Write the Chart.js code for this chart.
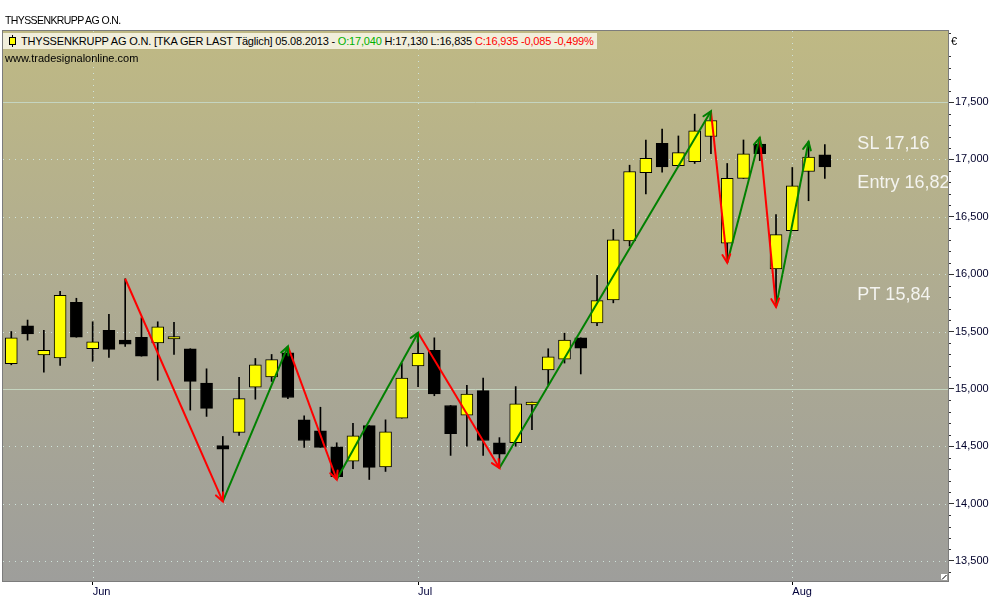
<!DOCTYPE html>
<html><head><meta charset="utf-8">
<script src="https://cdn.jsdelivr.net/npm/chart.js@4.4.0/dist/chart.umd.min.js"></script>
<style>
html,body{margin:0;padding:0;background:#fff;}
#wrap{position:relative;width:1000px;height:600px;overflow:hidden;}
canvas{position:absolute;left:0;top:0;}
.t{position:absolute;font-family:"Liberation Sans",Arial,sans-serif;font-size:11px;white-space:nowrap;color:#000;line-height:13px;}
#legend{position:absolute;left:3px;top:33px;height:16px;padding:0 3px 0 5px;background:#f1eedb;font-family:"Liberation Sans",Arial,sans-serif;font-size:11px;line-height:16px;white-space:nowrap;color:#000;letter-spacing:-0.18px;}
</style></head><body>
<div id="wrap">
<canvas id="c" width="1000" height="600"></canvas>
<div class="t" id="title" style="left:5px;top:14px;font-size:10.5px;letter-spacing:-0.6px;"></div>
<div id="legend"></div>
<div class="t" style="left:5px;top:52px;">www.tradesignalonline.com</div>
</div>
<script>
// ---------- data ----------
const symbolName = 'THYSSENKRUPP AG O.N.';
const symbolInfo = '[TKA GER LAST Täglich]';
const dates = ['27.05.2013','28.05.2013','29.05.2013','30.05.2013','31.05.2013',
 '03.06.2013','04.06.2013','05.06.2013','06.06.2013','07.06.2013','10.06.2013','11.06.2013','12.06.2013','13.06.2013','14.06.2013',
 '17.06.2013','18.06.2013','19.06.2013','20.06.2013','21.06.2013','24.06.2013','25.06.2013','26.06.2013','27.06.2013','28.06.2013',
 '01.07.2013','02.07.2013','03.07.2013','04.07.2013','05.07.2013','08.07.2013','09.07.2013','10.07.2013','11.07.2013','12.07.2013',
 '15.07.2013','16.07.2013','17.07.2013','18.07.2013','19.07.2013','22.07.2013','23.07.2013','24.07.2013','25.07.2013','26.07.2013',
 '29.07.2013','30.07.2013','31.07.2013','01.08.2013','02.08.2013','05.08.2013'];
const monthNames = ['Jan','Feb','Mar','Apr','May','Jun','Jul','Aug','Sep','Oct','Nov','Dec'];
const opens  = [15.22,15.55,15.295,15.27,15.755,15.35,15.51,15.425,15.45,15.40,15.435,15.35,15.05,14.505,14.62,15.015,15.105,15.315,14.73,14.635,
                14.495,14.37,14.68,14.32,14.745,15.20,15.335,14.855,14.77,14.985,14.53,14.53,14.86,15.165,15.26,15.445,15.575,15.775,16.29,16.885,
                17.14,16.945,16.98,17.20,16.27,16.835,17.135,16.045,16.38,16.895,17.04];
const highs  = [15.50,15.60,15.51,15.85,15.79,15.585,15.65,15.96,15.62,15.585,15.58,15.35,15.175,14.585,15.10,15.265,15.30,15.37,14.765,14.84,
                14.53,14.70,14.68,14.73,15.225,15.49,15.445,14.855,15.03,15.095,14.575,15.02,14.885,15.35,15.485,15.445,15.99,16.39,16.95,17.17,
                17.265,17.205,17.395,17.42,16.965,17.17,17.19,16.52,16.93,17.155,17.13];
const lows   = [15.21,15.425,15.145,15.205,15.45,15.24,15.275,15.37,15.285,15.075,15.30,14.815,14.76,14.02,14.595,14.91,15.065,14.915,14.49,14.49,
                14.21,14.305,14.21,14.28,14.745,15.02,14.94,14.42,14.50,14.42,14.31,14.50,14.645,15.035,15.225,15.13,15.55,15.75,16.245,16.70,
                16.89,16.94,16.965,17.05,16.10,16.835,16.99,15.715,16.38,16.64,16.835];
const closes = [15.445,15.48,15.335,15.815,15.45,15.41,15.345,15.39,15.285,15.54,15.455,15.065,14.83,14.475,14.915,15.21,15.255,14.925,14.55,14.49,
                14.235,14.59,14.315,14.625,15.095,15.31,14.955,14.61,14.955,14.55,14.43,14.87,14.885,15.28,15.425,15.355,15.77,16.30,16.895,17.01,
                16.935,17.06,17.25,17.34,16.835,17.05,17.05,16.345,16.77,17.02,16.935];
// zigzag pivots: candle index and type (H = high, L = low)
const zigIdx  = [7,13,17,20,25,30,43,44,46,47,49];
const zigType = ['H','L','H','L','H','L','H','L','H','L','H'];
// trade levels
const levelNames  = ['SL','Entry','PT'];
const levelValues = [17.16,16.82,15.84];
// axis
const yTicks = [13.5,14.0,14.5,15.0,15.5,16.0,16.5,17.0,17.5];
const yMin = 13.325, yMax = 18.12;
const xMin = -0.51, xMax = 57.57;

// ---------- helpers ----------
const FONT = '"Liberation Sans", Arial, sans-serif';
const fmt3 = v => v.toFixed(3).replace('.', ',');
const fmt2 = v => v.toFixed(2).replace('.', ',');
const YELLOW = '#ffff00', RED = '#ff0000', GREEN = '#008000';

const n = closes.length;
const monthIdx = [];
for (let i = 1; i < n; i++) if (dates[i].slice(3,5) !== dates[i-1].slice(3,5)) monthIdx.push(i);
const monthOf = i => monthNames[parseInt(dates[i].slice(3,5),10)-1];

const bodyData = closes.map((c,i)=>({x:i, y:[opens[i], c]}));
const wickData = closes.map((c,i)=>({x:i, y:[lows[i], highs[i]]}));
const bodyColors = closes.map((c,i)=> c >= opens[i] ? YELLOW : '#000000');
const zigData = zigIdx.map((k,j)=>({x:k, y: zigType[j]==='H' ? highs[k] : lows[k]}));

// ---------- header texts ----------
document.getElementById('title').textContent = symbolName;
(function(){
  const L = n-1;
  const chg = closes[L]-closes[L-1];
  const pct = chg/closes[L-1]*100;
  const oCol = opens[L] >= closes[L-1] ? '#00b000' : RED;
  const cCol = chg < 0 ? RED : '#00b000';
  const icon = '<span style="display:inline-block;position:relative;width:10px;height:12px;vertical-align:-2px;margin-right:3px">'+
    '<span style="position:absolute;left:4px;top:0;width:1px;height:12px;background:#000"></span>'+
    '<span style="position:absolute;left:1px;top:2px;width:5px;height:6px;background:#ff0;border:1px solid #000"></span></span>';
  document.getElementById('legend').innerHTML = icon +
    symbolName + ' ' + symbolInfo + ' ' + dates[L] + ' - ' +
    '<span style="color:'+oCol+'">O:' + fmt3(opens[L]) + '</span> H:' + fmt3(highs[L]) + ' L:' + fmt3(lows[L]) + ' ' +
    '<span style="color:'+cCol+'">C:' + fmt3(closes[L]) + ' ' + fmt3(chg) + ' ' + fmt3(pct) + '%</span>';
})();

// ---------- plugins ----------
const deco = {
  id:'deco',
  beforeDraw(chart){
    const {ctx, chartArea:a} = chart;
    ctx.save();
    ctx.fillStyle = '#ffffff';
    ctx.fillRect(0,0,chart.width,chart.height);
    const g = ctx.createLinearGradient(0,a.top,0,a.bottom);
    g.addColorStop(0,'#bfb984');
    g.addColorStop(0.5,'#aeab92');
    g.addColorStop(1,'#9e9e9b');
    ctx.fillStyle = g;
    ctx.fillRect(a.left,a.top,a.right-a.left,a.bottom-a.top);
    ctx.restore();
  },
  beforeDatasetsDraw(chart){
    const {ctx, chartArea:a, scales:{x,y}} = chart;
    ctx.save();
    ctx.lineWidth = 1;
    yTicks.forEach(v=>{
      const py = Math.round(y.getPixelForValue(v)) + 0.5;
      const solid = Math.abs(v % 2.5) < 1e-6;
      ctx.setLineDash(solid ? [] : [1,5]);
      ctx.strokeStyle = solid ? '#c5d5c0' : '#cfe3da';
      ctx.beginPath(); ctx.moveTo(a.left,py); ctx.lineTo(a.right,py); ctx.stroke();
    });
    ctx.setLineDash([1,5]);
    ctx.strokeStyle = '#cfe3da';
    monthIdx.forEach(i=>{
      const px = Math.round(x.getPixelForValue(i)) + 0.5;
      ctx.beginPath(); ctx.moveTo(px,a.top); ctx.lineTo(px,a.bottom); ctx.stroke();
    });
    ctx.restore();
  },
  afterDatasetsDraw(chart){
    const {ctx, chartArea:a, scales:{x,y}} = chart;
    ctx.save();
    // arrow heads on zigzag
    const meta = chart.getDatasetMeta(0);
    const pts = meta.data;
    ctx.lineWidth = 2;
    ctx.lineCap = 'round';
    for (let i = 1; i < pts.length; i++){
      const p0 = pts[i-1], p1 = pts[i];
      const ang = Math.atan2(p1.y-p0.y, p1.x-p0.x);
      const up = zigData[i].y > zigData[i-1].y;
      ctx.strokeStyle = up ? GREEN : RED;
      const len = 9, spread = 0.45;
      ctx.beginPath();
      ctx.moveTo(p1.x - len*Math.cos(ang-spread), p1.y - len*Math.sin(ang-spread));
      ctx.lineTo(p1.x, p1.y);
      ctx.lineTo(p1.x - len*Math.cos(ang+spread), p1.y - len*Math.sin(ang+spread));
      ctx.stroke();
    }
    // level texts
    ctx.beginPath(); ctx.rect(a.left,a.top,a.right-a.left,a.bottom-a.top); ctx.clip();
    ctx.fillStyle = '#f4f4f0';
    ctx.font = '18px ' + FONT;
    ctx.textBaseline = 'middle';
    ctx.textAlign = 'left';
    const tx = x.getPixelForValue(n + 1);
    levelValues.forEach((v,j)=>{
      ctx.fillText(levelNames[j] + ' ' + fmt2(v), tx, y.getPixelForValue(v) + 3);
    });
    ctx.restore();
  },
  afterDraw(chart){
    const {ctx, chartArea:a, scales:{y}} = chart;
    ctx.save();
    // frame
    ctx.strokeStyle = '#7c7c7c';
    ctx.lineWidth = 1;
    ctx.strokeRect(a.left-0.5, a.top-0.5, a.right-a.left+1, a.bottom-a.top+1);
    // minor ticks
    ctx.strokeStyle = '#333';
    for (let k = Math.ceil(yMin*10); k <= Math.floor(yMax*10); k++){
      if (k % 5 === 0) continue;
      const py = Math.round(y.getPixelForValue(k/10)) + 0.5;
      ctx.beginPath(); ctx.moveTo(a.right+1, py); ctx.lineTo(a.right+3, py); ctx.stroke();
    }
    // currency
    ctx.fillStyle = '#000';
    ctx.font = '11px ' + FONT;
    ctx.textBaseline = 'middle';
    ctx.fillText('€', a.right+3, a.top+11);
    // resize glyph
    ctx.fillStyle = '#fff';
    ctx.fillRect(a.right-7, a.bottom-7, 6, 6);
    ctx.strokeStyle = '#000';
    ctx.beginPath(); ctx.moveTo(a.right-6, a.bottom-1.5); ctx.lineTo(a.right-1.5, a.bottom-6); ctx.stroke();
    ctx.restore();
  }
};

// ---------- chart ----------
new Chart(document.getElementById('c'), {
  type:'bar',
  data:{
    datasets:[
      {type:'line', label:'ZigZag', data:zigData, borderWidth:2, pointRadius:0, tension:0, order:0,
       borderColor:RED,
       segment:{borderColor: c => c.p1.parsed.y > c.p0.parsed.y ? GREEN : RED}},
      {type:'bar', label:'Body', data:bodyData, backgroundColor:bodyColors, borderColor:'#000', borderWidth:1,
       borderSkipped:false, barThickness:12, grouped:false, order:1},
      {type:'bar', label:'Wick', data:wickData, backgroundColor:'#000', borderWidth:0,
       barThickness:1, grouped:false, order:2}
    ]
  },
  options:{
    responsive:false, animation:false, devicePixelRatio:1,
    layout:{padding:{top:31,left:3,right:0,bottom:0}},
    plugins:{legend:{display:false}, tooltip:{enabled:false}},
    scales:{
      x:{type:'linear', min:xMin, max:xMax, offset:false,
         grid:{drawOnChartArea:false, drawTicks:true, offset:false, tickLength:4, tickColor:'#000', tickWidth:1},
         border:{display:false},
         ticks:{align:'start', padding:0, autoSkip:false, maxRotation:0, color:'#00003a',
                font:{family:FONT, size:11}, callback:(v)=> monthOf(v)},
         afterBuildTicks: s => { s.ticks = monthIdx.map(v=>({value:v})); },
         afterFit: s => { s.height = 19; }},
      y:{type:'linear', position:'right', min:yMin, max:yMax,
         grid:{drawOnChartArea:false, drawTicks:true, offset:false, tickLength:6, tickColor:'#333', tickWidth:1},
         border:{display:false},
         ticks:{padding:1, color:'#00002a', font:{family:FONT, size:11}, callback:v=>fmt3(v)},
         afterBuildTicks: s => { s.ticks = yTicks.map(v=>({value:v})); },
         afterFit: s => { s.width = 52; }}
    }
  },
  plugins:[deco]
});
</script>
</body></html>
